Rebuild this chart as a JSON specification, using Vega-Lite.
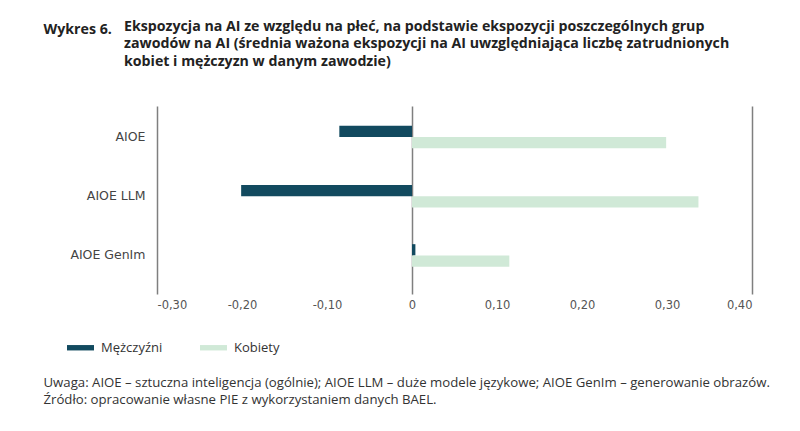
{
  "$schema": "https://vega.github.io/schema/vega-lite/v6.json",
  "autosize": "none",
  "width": 595,
  "height": 188,
  "padding": {"left": 157, "top": 106, "right": 48, "bottom": 137},
  "background": "white",
  "title": {
    "text": ["Ekspozycja na AI ze względu na płeć, na podstawie ekspozycji poszczególnych grup", "zawodów na AI (średnia ważona ekspozycji na AI uwzględniająca liczbę zatrudnionych", "kobiet i mężczyzn w danym zawodzie)"],
    "anchor": "start",
    "frame": "group",
    "dx": -33,
    "dy": 85,
    "font": "Open Sans",
    "fontSize": 14.2,
    "fontWeight": "bold",
    "color": "#222222",
    "lineHeight": 17.5,
    "offset": 38
  },
  "data": {
    "values": [
      {"kategoria": "AIOE", "plec": "Mężczyźni", "wartosc": -0.0855},
      {"kategoria": "AIOE", "plec": "Kobiety", "wartosc": 0.299},
      {"kategoria": "AIOE LLM", "plec": "Mężczyźni", "wartosc": -0.201},
      {"kategoria": "AIOE LLM", "plec": "Kobiety", "wartosc": 0.337},
      {"kategoria": "AIOE GenIm", "plec": "Mężczyźni", "wartosc": 0.004},
      {"kategoria": "AIOE GenIm", "plec": "Kobiety", "wartosc": 0.1145}
    ]
  },
  "mark": {"type": "bar"},
  "encoding": {
    "y": {
      "field": "kategoria",
      "type": "nominal",
      "sort": ["AIOE", "AIOE LLM", "AIOE GenIm"],
      "scale": {"paddingInner": 0.62, "paddingOuter": 0.398, "align": 0.42},
      "axis": {
        "title": "Wykres 6.",
        "titleAngle": 0,
        "titleX": -114,
        "titleY": -77,
        "titleAlign": "left",
        "titleBaseline": "middle",
        "titleFont": "Open Sans",
        "titleFontSize": 14.2,
        "titleFontWeight": "bold",
        "titleColor": "#222222",
        "domain": false,
        "ticks": false,
        "labelPadding": 12,
        "labelFont": "DejaVu Sans",
        "labelFontSize": 12.5,
        "labelColor": "#444444",
        "grid": false
      }
    },
    "yOffset": {
      "field": "plec",
      "type": "nominal",
      "sort": ["Mężczyźni", "Kobiety"],
      "scale": {"paddingInner": 0, "paddingOuter": 0}
    },
    "x": {
      "field": "wartosc",
      "type": "quantitative",
      "scale": {"domain": [-0.3, 0.4], "nice": false, "zero": false},
      "axis": {
        "values": [-0.3, -0.2, -0.1, 0, 0.1, 0.2, 0.3, 0.4],
        "labelExpr": "abs(datum.value) < 1e-9 ? '0' : (datum.value < 0 ? '-' : '') + replace(format(abs(datum.value), '.2f'), '.', ',')",
        "domain": false,
        "ticks": false,
        "grid": true,
        "gridColor": "#7f7f7f",
        "gridWidth": 1.5,
        "gridOpacity": {"condition": {"test": "abs(datum.value) < 1e-9 || abs(datum.value + 0.3) < 1e-9 || abs(datum.value - 0.4) < 1e-9", "value": 1}, "value": 0},
        "labelPadding": 5,
        "labelFont": "DejaVu Sans",
        "labelFontSize": 11.5,
        "labelColor": "#555555",
        "title": ["Uwaga: AIOE – sztuczna inteligencja (ogólnie); AIOE LLM – duże modele językowe; AIOE GenIm – generowanie obrazów.", "Źródło: opracowanie własne PIE z wykorzystaniem danych BAEL."],
        "titleAnchor": "start",
        "titleAlign": "left",
        "titleBaseline": "middle",
        "titleX": -114,
        "titleY": 88,
        "titleLineHeight": 17,
        "titleFont": "Open Sans",
        "titleFontSize": 13.2,
        "titleFontWeight": "normal",
        "titleColor": "#333333"
      }
    },
    "color": {
      "field": "plec",
      "type": "nominal",
      "scale": {"domain": ["Mężczyźni", "Kobiety"], "range": ["#124a5f", "#d0e9d7"]},
      "legend": {
        "title": null,
        "orient": "none",
        "direction": "horizontal",
        "legendX": -90,
        "legendY": 228,
        "padding": 0,
        "symbolType": "M-1,-0.2H1V0.2H-1Z",
        "symbolSize": 729,
        "symbolStrokeWidth": 0,
        "labelOffset": 7,
        "columnPadding": 37,
        "labelFont": "Open Sans",
        "labelFontSize": 13,
        "labelColor": "#333333"
      }
    }
  },
  "config": {
    "view": {"stroke": null}
  }
}
